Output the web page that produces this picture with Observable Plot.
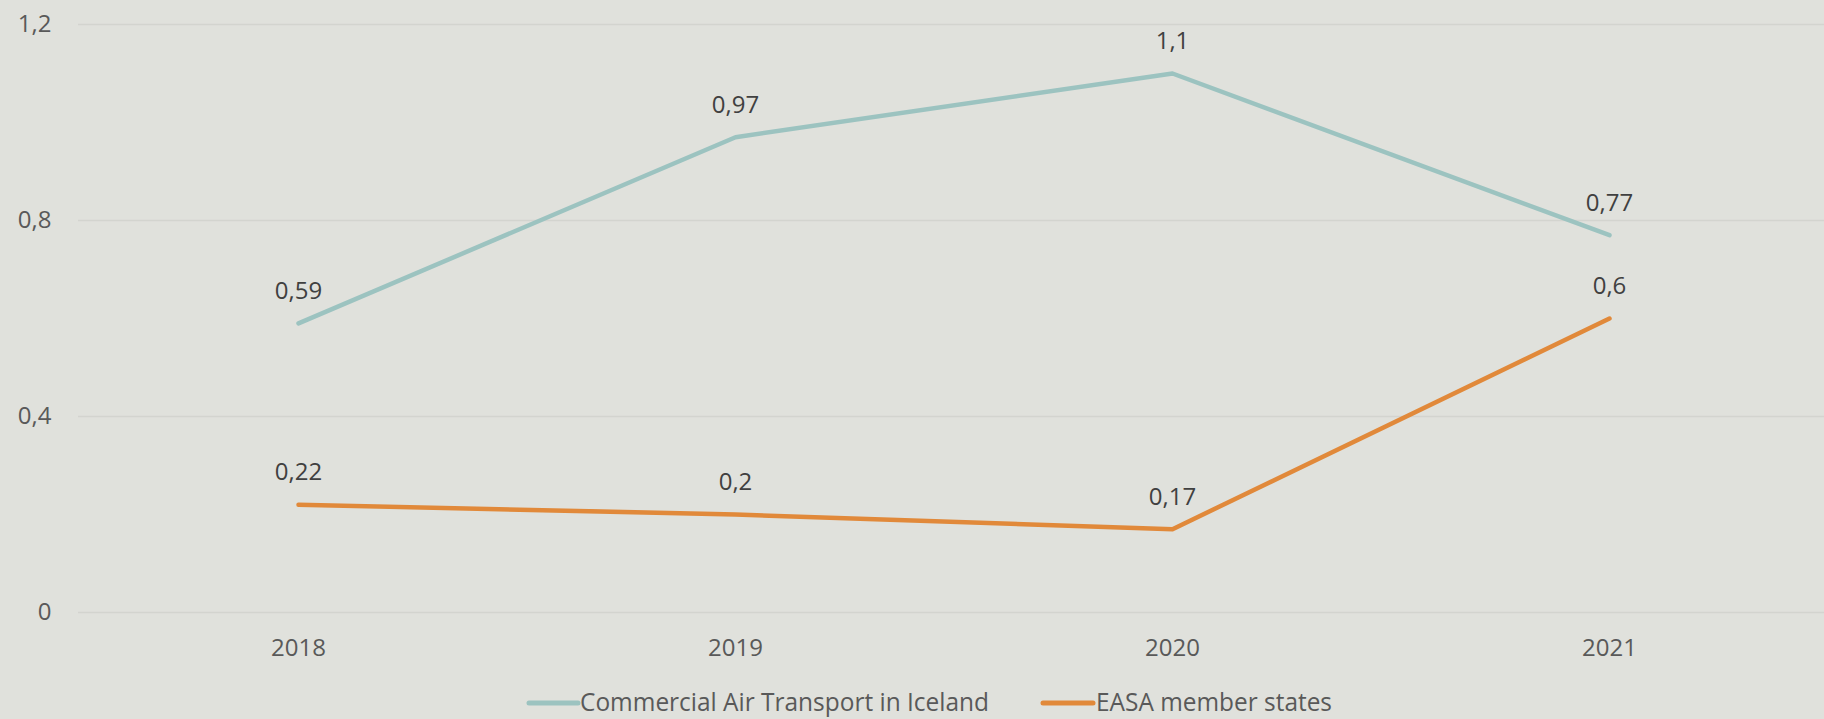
<!DOCTYPE html>
<html>
<head>
<meta charset="utf-8">
<script src="https://cdn.jsdelivr.net/npm/d3@7"></script>
<script src="https://cdn.jsdelivr.net/npm/@observablehq/plot@0.6"></script>
<style>
  html, body { margin: 0; padding: 0; background: #e0e1dc; }
  #chart svg { display: block; }
  #legend { display: block; }
</style>
</head>
<body>
<div id="chart"></div>
<svg id="legend" width="1824" height="39"></svg>
<script>
const years = ["2018", "2019", "2020", "2021"];
const iceland = [0.59, 0.97, 1.1, 0.77];
const easa = [0.22, 0.2, 0.17, 0.6];
const seriesNames = ["Commercial Air Transport in Iceland", "EASA member states"];
const seriesColors = ["#9cc3c0", "#e1893a"];
const yTicks = [0, 0.4, 0.8, 1.2];

const fmt = d => String(d).replace(".", ",");

const data = [];
years.forEach((y, i) => data.push({year: y, value: iceland[i], series: seriesNames[0]}));
years.forEach((y, i) => data.push({year: y, value: easa[i], series: seriesNames[1]}));

const chart = Plot.plot({
  width: 1824,
  height: 680,
  marginTop: 24,
  marginBottom: 68,
  marginLeft: 78,
  marginRight: 0,
  style: {background: "#e0e1dc", fontFamily: "Open Sans", fontSize: "24px", color: "#595959", overflow: "visible"},
  x: {type: "point", domain: years, padding: 0.5, range: [78, 1829], label: null},
  y: {domain: [0, 1.2], label: null},
  color: {domain: seriesNames, range: seriesColors},
  marks: [
    Plot.gridY(yTicks, {stroke: "#d3d4cf", strokeOpacity: 1, strokeWidth: 1.3}),
    Plot.axisY(yTicks, {tickSize: 0, tickPadding: 27, tickFormat: fmt, fill: "#595959", fontSize: 24, label: null}),
    Plot.axisX({tickSize: 0, tickPadding: 26, fill: "#595959", fontSize: 24, label: null}),
    Plot.line(data, {x: "year", y: "value", z: "series", stroke: "series", strokeWidth: 4.5, strokeLinecap: "round", strokeLinejoin: "round"}),
    Plot.text(data, {x: "year", y: "value", text: d => fmt(d.value), dy: -32, fill: "#404040", fontSize: 24})
  ]
});
document.getElementById("chart").appendChild(chart);

// Legend
const legend = d3.select("#legend");
const items = [
  {name: seriesNames[0], color: seriesColors[0], x1: 529, x2: 578, tx: 580, tl: 409},
  {name: seriesNames[1], color: seriesColors[1], x1: 1043, x2: 1093, tx: 1096, tl: 236}
];
items.forEach(it => {
  legend.append("line")
    .attr("x1", it.x1).attr("x2", it.x2).attr("y1", 23).attr("y2", 23)
    .attr("stroke", it.color).attr("stroke-width", 5).attr("stroke-linecap", "round");
  legend.append("text")
    .attr("x", it.tx).attr("y", 24)
    .attr("dominant-baseline", "middle")
    .attr("font-family", "Open Sans").attr("font-size", 26)
    .attr("fill", "#595959")
    .attr("textLength", it.tl).attr("lengthAdjust", "spacingAndGlyphs")
    .text(it.name);
});
</script>
</body>
</html>
